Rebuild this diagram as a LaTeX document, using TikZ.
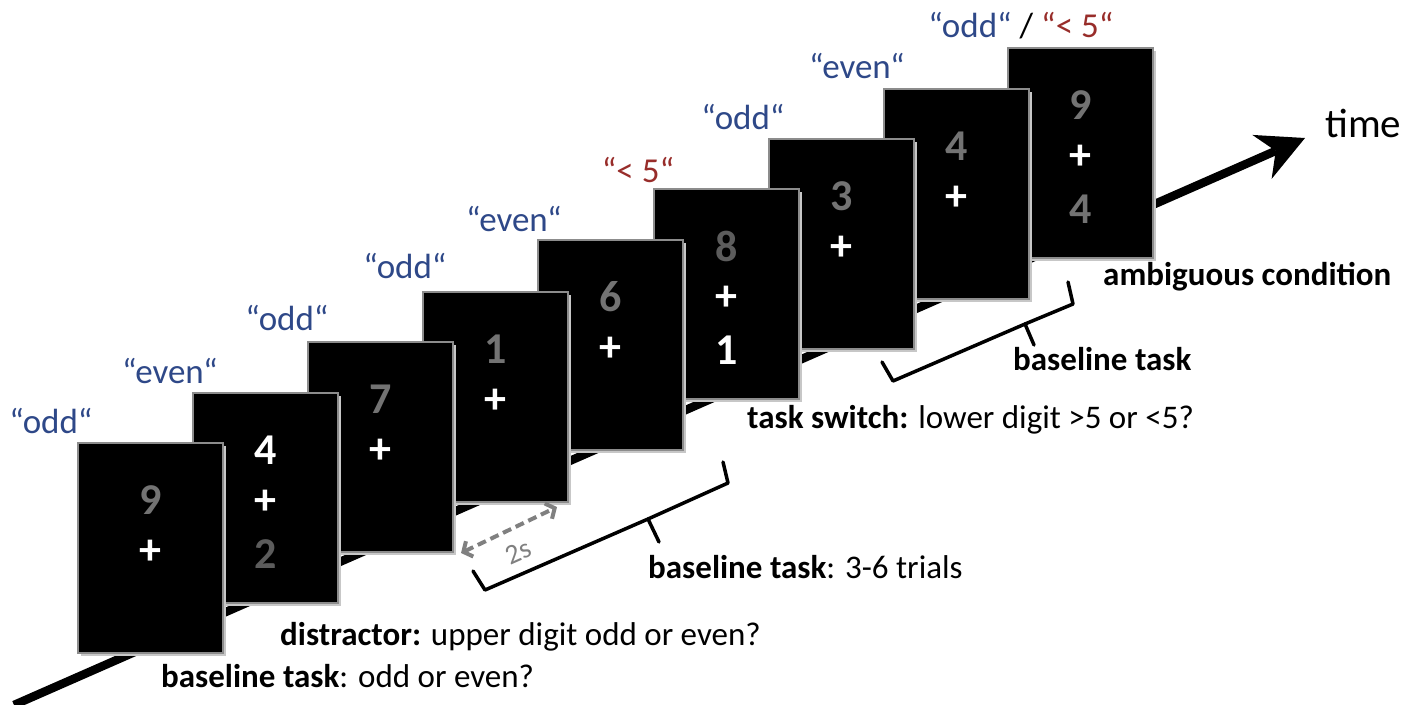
\documentclass[tikz,border=0pt]{standalone}
\usepackage{fontspec}
\setmainfont{Carlito}
\usetikzlibrary{arrows.meta,shadows,calc}
\definecolor{lblue}{RGB}{46,72,136}
\definecolor{lred}{RGB}{152,45,42}
\definecolor{dgrey}{RGB}{115,115,115}
\definecolor{ddgrey}{RGB}{92,92,92}
\definecolor{cardedge}{RGB}{140,140,140}
\definecolor{arrgrey}{RGB}{128,128,128}
\newcommand{\fsz}[1]{\fontsize{#1}{#1}\selectfont}
\begin{document}
\begin{tikzpicture}[x=1pt,y=-1pt,
  card/.style={draw=cardedge, line width=2pt, fill=black, minimum width=145pt,
    minimum height=210pt, anchor=north west, inner sep=0pt,
    drop shadow={shadow xshift=3pt, shadow yshift=-3pt, fill=black!22, opacity=1}},
  dig/.style={font=\fsz{44}\bfseries, text=dgrey, inner sep=0pt},
  plus/.style={font=\fsz{44}\bfseries, text=white, inner sep=0pt},
  lab/.style={font=\fsz{35}, text=lblue, inner sep=0pt, anchor=base},
  desc/.style={font=\fsz{33}, text=black, inner sep=0pt, anchor=base west},
  brace/.style={line width=3.5pt, line join=round, line cap=round},
  timeline/.style={line width=8.5pt, -{Stealth[length=47pt,width=48pt,inset=15pt,line width=0pt]}},
  interval/.style={arrgrey, line width=4pt, dash pattern=on 9pt off 5pt,
    {Straight Barb[length=7pt,width=17pt]}-{Straight Barb[length=7pt,width=17pt]}}
]
\useasboundingbox (0,0) rectangle (1420,704);

% time axis
\coordinate (ts) at (14,705);
\coordinate (te) at (1305,138);
\draw[timeline] (ts) -- (te);
\node[desc, font=\fsz{41}] (time) at (1325,137) {time};

% cards, back to front
\node[card] (c9) at (1007,47) {};
\node[dig] (c9u) at ($(c9.north)+(0,58)$) {9};
\node[plus] (c9p) at ($(c9.north)+(0,110)$) {+};
\node[dig] (c9l) at ($(c9.north)+(0,162)$) {4};

\node[card] (c8) at (883,88) {};
\node[dig] (c8u) at ($(c8.north)+(0,58)$) {4};
\node[plus] (c8p) at ($(c8.north)+(0,110)$) {+};

\node[card] (c7) at (768,138) {};
\node[dig] (c7u) at ($(c7.north)+(0,58)$) {3};
\node[plus] (c7p) at ($(c7.north)+(0,110)$) {+};

\node[card] (c6) at (653,188) {};
\node[dig, text=ddgrey] (c6u) at ($(c6.north)+(0,58)$) {8};
\node[plus] (c6p) at ($(c6.north)+(0,110)$) {+};
\node[dig, text=white] (c6l) at ($(c6.north)+(0,162)$) {1};

\node[card] (c5) at (537,239) {};
\node[dig] (c5u) at ($(c5.north)+(0,58)$) {6};
\node[plus] (c5p) at ($(c5.north)+(0,110)$) {+};

\node[card] (c4) at (422,291) {};
\node[dig] (c4u) at ($(c4.north)+(0,58)$) {1};
\node[plus] (c4p) at ($(c4.north)+(0,110)$) {+};

\node[card] (c3) at (307,341) {};
\node[dig] (c3u) at ($(c3.north)+(0,58)$) {7};
\node[plus] (c3p) at ($(c3.north)+(0,110)$) {+};

\node[card] (c2) at (192,392) {};
\node[dig, text=white] (c2u) at ($(c2.north)+(0,58)$) {4};
\node[plus] (c2p) at ($(c2.north)+(0,110)$) {+};
\node[dig, text=ddgrey] (c2l) at ($(c2.north)+(0,162)$) {2};

\node[card] (c1) at (77,442) {};
\node[dig] (c1u) at ($(c1.north)+(0,58)$) {9};
\node[plus] (c1p) at ($(c1.north)+(0,110)$) {+};

% responses
\node[lab] (l1) at (51,433) {“odd“};
\node[lab] (l2) at (170,383) {“even“};
\node[lab] (l3) at (287,330) {“odd“};
\node[lab] (l4) at (405,278) {“odd“};
\node[lab] (l5) at (514,231) {“even“};
\node[lab, text=lred] (l6) at (638,182) {“< 5“};
\node[lab] (l7) at (743,129) {“odd“};
\node[lab] (l8) at (857,78) {“even“};
\node[lab, text=black] (l9) at (1021,37) {\textcolor{lblue}{“odd“} / \textcolor{lred}{“< 5“}};

% 2s interval
\coordinate (d1) at (461,553);
\coordinate (d2) at (557,507);
\draw[interval] (d1) -- (d2);
\node[font=\fsz{28}, text=arrgrey, rotate=24, inner sep=0pt] (two) at (518,552) {2s};

% braces
\coordinate (b1a) at (473,571);
\coordinate (b1b) at (485,590);
\coordinate (b1m) at (648,519);
\coordinate (b1t) at (659,542);
\coordinate (b1c) at (728,483);
\coordinate (b1d) at (723,462);
\draw[brace] (b1a) -- (b1b) -- (b1m) -- (b1c) -- (b1d);
\draw[brace] (b1m) -- (b1t);

\coordinate (b2a) at (882,362);
\coordinate (b2b) at (893,381);
\coordinate (b2m) at (1025,324);
\coordinate (b2t) at (1034,345);
\coordinate (b2c) at (1073,304);
\coordinate (b2d) at (1068,282);
\draw[brace] (b2a) -- (b2b) -- (b2m) -- (b2c) -- (b2d);
\draw[brace] (b2m) -- (b2t);

% descriptions
\node[desc] (t1) at (161,687) {\textbf{baseline task}: odd or even?};
\node[desc] (t2) at (280,645) {\textbf{distractor:} upper digit odd or even?};
\node[desc] (t3) at (648,578) {\textbf{baseline task}: 3-6 trials};
\node[desc] (t4) at (747,428) {\textbf{task switch:} lower digit >5 or <5?};
\node[desc] (t5) at (1013,370) {\textbf{baseline task}};
\node[desc] (t6) at (1103,285) {\textbf{ambiguous condition}};
\end{tikzpicture}
\end{document}
